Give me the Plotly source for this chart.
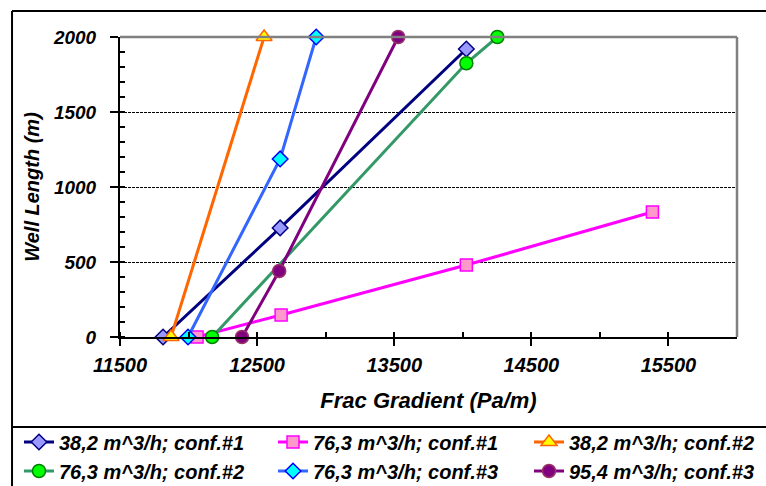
import plotly.graph_objects as go

names = ["38,2 m^3/h; conf.#1", "76,3 m^3/h; conf.#1", "38,2 m^3/h; conf.#2",
         "76,3 m^3/h; conf.#2", "76,3 m^3/h; conf.#3", "95,4 m^3/h; conf.#3"]
x1 = [11814, 12668, 14026]; y1 = [0, 727, 1920]
x2 = [12062, 12675, 14026, 15383]; y2 = [0, 147, 480, 833]
x3 = [11872, 12551]; y3 = [0, 2000]
x4 = [12172, 14026, 14252]; y4 = [0, 1825, 2000]
x5 = [11996, 12668, 12931]; y5 = [0, 1187, 2000]
x6 = [12390, 12661, 13529]; y6 = [0, 440, 2000]

xs = [x1, x2, x3, x4, x5, x6]
ys = [y1, y2, y3, y4, y5, y6]
line_colors = ["#000080", "#FF00FF", "#FF6600", "#339966", "#3366FF", "#800080"]
fill_colors = ["#9999FF", "#FF99CC", "#FFFF00", "#00FF00", "#00FFFF", "#800080"]
edge_colors = ["#000080", "#FF00FF", "#FF6600", "#008000", "#0000FF", "#993366"]
symbols = ["diamond", "square", "triangle-up", "circle", "diamond", "circle"]
sizes = [12, 12, 14, 13, 12, 13]
legend_ids = ["legend", "legend2", "legend3", "legend", "legend2", "legend3"]

FONT = "Liberation Sans, Arial, sans-serif"
fig = go.Figure()
for i in range(6):
    fig.add_trace(go.Scatter(
        x=xs[i], y=ys[i], name=names[i], mode="lines+markers",
        line=dict(color=line_colors[i], width=3),
        marker=dict(symbol=symbols[i], size=sizes[i], color=fill_colors[i],
                    line=dict(color=edge_colors[i], width=1.5)),
        cliponaxis=False, legend=legend_ids[i],
    ))

xtickfont = dict(family=FONT, size=20, color="black", weight="bold", style="italic")
ytickfont = dict(family=FONT, size=19, color="black", weight="bold", style="italic")
legfont = dict(family=FONT, size=20, color="black", weight="bold", style="italic")


def leg(xpx):
    return dict(orientation="v", x=(xpx - 120) / 617, y=-0.285, xanchor="left", yanchor="top",
                font=legfont, itemwidth=30, tracegroupgap=0, bgcolor="rgba(0,0,0,0)")


fig.update_layout(
    width=766, height=486,
    margin=dict(l=120, r=29, t=37, b=149, autoexpand=False),
    paper_bgcolor="white", plot_bgcolor="white",
    showlegend=True,
    legend=leg(19), legend2=leg(273), legend3=leg(529),
    xaxis=dict(range=[11500, 16000], tick0=11500, dtick=1000, ticks="outside",
               ticklen=7, tickwidth=1.5, tickcolor="black", tickformat="d",
               ticklabelstandoff=2,
               showline=True, linecolor="black", linewidth=2, showgrid=False,
               zeroline=False, tickfont=xtickfont, automargin=False,
               minor=dict(dtick=500, tick0=11500, ticks="inside", ticklen=5, tickcolor="black", tickwidth=1.5),
               title=dict(text="Frac Gradient (Pa/m)",
                          font=dict(family=FONT, size=22, color="black", weight="bold", style="italic"),
                          standoff=18)),
    yaxis=dict(range=[0, 2000], dtick=500, ticks="outside", ticklen=8, tickwidth=1.5,
               tickcolor="black", showline=True, linecolor="black", linewidth=2, tickformat="d",
               ticklabelstandoff=10,
               showgrid=True, gridcolor="black", gridwidth=1, griddash="3px,1px",
               zeroline=False, tickfont=ytickfont, automargin=False,
               minor=dict(dtick=100, ticks="inside", ticklen=5, tickcolor="black", tickwidth=1.5, showgrid=False),
               title=dict(text="Well Length (m)",
                          font=dict(family=FONT, size=20, color="black", weight="bold", style="italic"),
                          standoff=8)),
)

# plot-area top/right gray border
fig.add_shape(type="line", xref="paper", yref="paper", x0=0, x1=1, y0=1, y1=1,
              line=dict(color="#808080", width=2.5))
fig.add_shape(type="line", xref="paper", yref="paper", x0=1, x1=1, y0=0, y1=1,
              line=dict(color="#808080", width=2.5))
# outer chart border and legend separator
fig.add_shape(type="line", xref="paper", yref="paper", x0=-0.175, x1=1.1, y0=1.0867, y1=1.0867,
              line=dict(color="black", width=2))
fig.add_shape(type="line", xref="paper", yref="paper", x0=-0.175, x1=-0.175, y0=1.0867, y1=-0.55,
              line=dict(color="black", width=2))
fig.add_shape(type="line", xref="paper", yref="paper", x0=-0.175, x1=1.1, y0=-0.3, y1=-0.3,
              line=dict(color="black", width=2))

fig.write_html("out.html")
